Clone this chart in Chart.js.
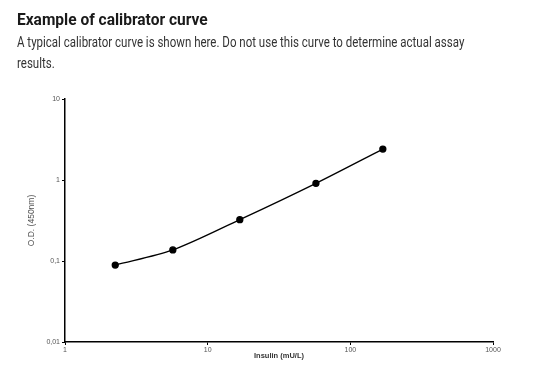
<!DOCTYPE html>
<html>
<head>
<meta charset="utf-8">
<script src="https://cdn.jsdelivr.net/npm/chart.js@4"></script>
<style>
  html, body { margin: 0; padding: 0; background: #fff; }
  #wrap { position: relative; width: 540px; height: 388px; }
  .txt { position: absolute; left: 17px; margin: 0; font-family: "Roboto", sans-serif; white-space: nowrap; transform-origin: left top; }
  #title { top: 9.5px; font-size: 16.5px; line-height: 20px; font-weight: bold; color: #1a1a1a; transform: scaleX(0.94); }
  #sub { top: 31.5px; font-size: 14px; line-height: 21px; color: #333; transform: scaleX(0.822); }
  canvas { position: absolute; left: 0; top: 0; }
</style>
</head>
<body>
<div id="wrap">
  <canvas id="curveChart" width="540" height="388"></canvas>
  <div class="txt" id="title">Example of calibrator curve</div>
  <div class="txt" id="sub">A typical calibrator curve is shown here. Do not use this curve to determine actual assay<br>results.</div>
</div>
<script>
// Calibrator points
const insulin = [2.25, 5.7, 16.8, 57.4, 169];
const od = [0.089, 0.137, 0.324, 0.91, 2.41];

// Axis ticks
const xTicks = [1, 10, 100, 1000];
const xTickLabels = ['1', '10', '100', '1000'];
const yTicks = [0.01, 0.1, 1, 10];
const yTickLabels = ['0,01', '0,1', '1', '10'];

const ctx = document.getElementById('curveChart').getContext('2d');

const tickFont = { family: 'Liberation Sans, Arial, sans-serif', size: 7 };

const config = {
  type: 'line',
  data: {
    datasets: [{
      data: insulin.map((x, i) => ({ x: x, y: od[i] })),
      borderColor: '#000',
      backgroundColor: '#000',
      borderWidth: 1.3,
      pointRadius: 3,
      pointHoverRadius: 3,
      tension: 0.3
    }]
  },
  options: {
    responsive: false,
    animation: false,
    layout: { padding: { left: 27, right: 47, top: 99, bottom: 24 } },
    plugins: { legend: { display: false }, tooltip: { enabled: false } },
    scales: {
      x: {
        type: 'logarithmic',
        min: 1,
        max: 1000,
        afterBuildTicks: (s) => { s.ticks = xTicks.map(v => ({ value: v })); },
        afterFit: (s) => { s.height = 22; },
        border: { color: '#000', width: 1.5 },
        grid: { drawOnChartArea: false, drawTicks: true, tickLength: 3, color: '#000' },
        ticks: {
          color: '#555',
          font: tickFont,
          padding: 1,
          maxRotation: 0,
          autoSkip: false,
          callback: (v) => xTickLabels[xTicks.indexOf(v)]
        },
        title: {
          display: true,
          text: 'Insulin (mU/L)',
          color: '#333',
          font: { family: 'Liberation Sans, Arial, sans-serif', size: 7.5, weight: 'bold' },
          padding: { top: 2 }
        }
      },
      y: {
        type: 'logarithmic',
        min: 0.01,
        max: 10,
        afterBuildTicks: (s) => { s.ticks = yTicks.map(v => ({ value: v })); },
        afterFit: (s) => { s.width = 38; },
        border: { color: '#000', width: 1.5 },
        grid: { drawOnChartArea: false, drawTicks: true, tickLength: 3, color: '#000' },
        ticks: {
          color: '#555',
          font: tickFont,
          padding: 2,
          autoSkip: false,
          callback: (v) => yTickLabels[yTicks.indexOf(v)]
        },
        title: {
          display: true,
          text: 'O.D. (450nm)',
          color: '#555',
          font: { family: 'Liberation Sans, Arial, sans-serif', size: 8.5 },
          padding: 0
        }
      }
    }
  }
};

const curveChart = new Chart(ctx, config);
</script>
</body>
</html>
